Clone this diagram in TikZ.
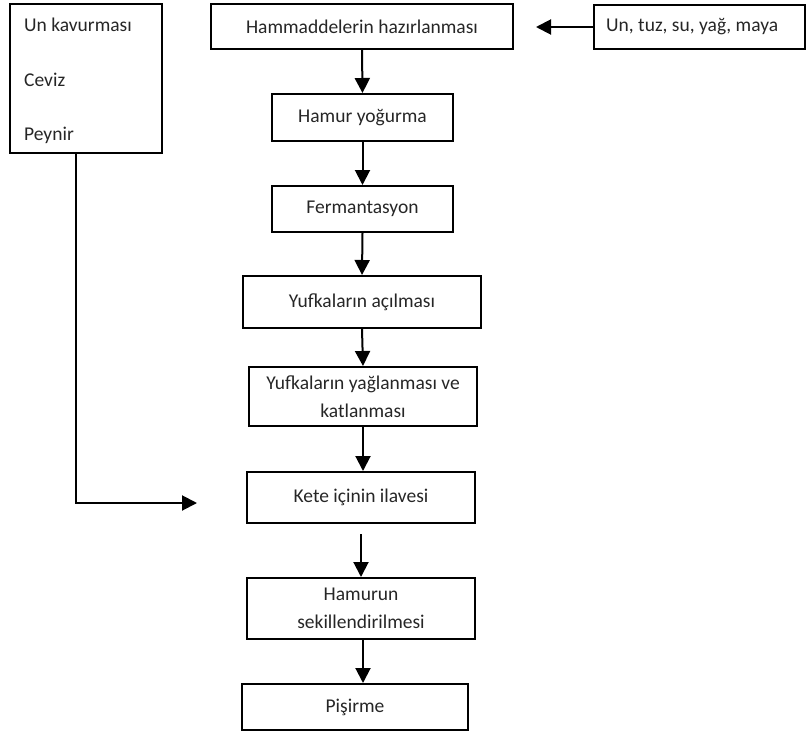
\documentclass[tikz,border=0pt]{standalone}
\usepackage{fontspec}
\setmainfont{Carlito}
\usetikzlibrary{arrows.meta}
\begin{document}
\begin{tikzpicture}[x=1pt,y=1pt,
  box/.style={draw=black, line width=2pt, inner sep=2pt, align=center,
    font=\fontsize{19.5}{28}\selectfont, text=black!85},
  lbl/.style={inner sep=0pt, anchor=west, font=\fontsize{19.5}{28}\selectfont, text=black!85},
  arr/.style={line width=2pt, -{Triangle[length=15pt,width=15pt]}}]
\useasboundingbox (0,0) rectangle (806,-731);
% left box
\node[box, minimum width=152pt, minimum height=149pt] (left) at (86,-78.5) {};
\node[lbl] (t1) at (24,-25) {Un kavurması};
\node[lbl] (t2) at (24,-80) {Ceviz};
\node[lbl] (t3) at (24,-135) {Peynir};
% right box
\node[box, minimum width=211pt, minimum height=44pt] (right) at (699.5,-27) {};
\node[lbl] (t4) at (606,-27) {Un, tuz, su, yağ, maya};
% main chain
\node[box, minimum width=302pt, minimum height=45pt] (ham) at (362,-26.5) {Hammaddelerin hazırlanması};
\node[box, minimum width=181pt, minimum height=47pt] (hamur) at (362.5,-117.5) {Hamur yoğurma};
\node[box, minimum width=181pt, minimum height=46pt] (ferm) at (362.5,-209) {Fermantasyon};
\node[box, minimum width=238pt, minimum height=52pt] (yuf1) at (362,-302) {Yufkaların açılması};
\node[box, minimum width=228pt, minimum height=59pt] (yuf2) at (363,-396.5) {Yufkaların yağlanması ve\\katlanması};
\node[box, minimum width=228pt, minimum height=51pt] (kete) at (361,-497.5) {Kete içinin ilavesi};
\node[box, minimum width=228pt, minimum height=61pt] (hamurun) at (361,-608.5) {Hamurun\\sekillendirilmesi};
\node[box, minimum width=226pt, minimum height=46pt] (pis) at (355,-707) {Pişirme};
% connectors
\coordinate (rtip) at (536,-27);
\draw[arr] (right.west) -- (rtip);
\draw[arr] (ham.south) -- (hamur.north);
\draw[arr] (hamur.south) -- (ferm.north);
\draw[arr] (ferm.south) -- (yuf1.north);
\draw[arr] (yuf1.south) -- (yuf2.north);
\draw[arr] (yuf2.south) -- (yuf2.south |- kete.north);
\draw[arr] ([yshift=-10pt]kete.south -| hamurun.north) -- (hamurun.north);
\coordinate (hp) at (363,-639);
\draw[arr] (hamurun.south -| hp) -- (hp |- pis.north);
\coordinate (lstart) at (76,-153);
\coordinate (ltip) at (197,-503);
\draw[arr] (lstart) |- (ltip);
\end{tikzpicture}
\end{document}
